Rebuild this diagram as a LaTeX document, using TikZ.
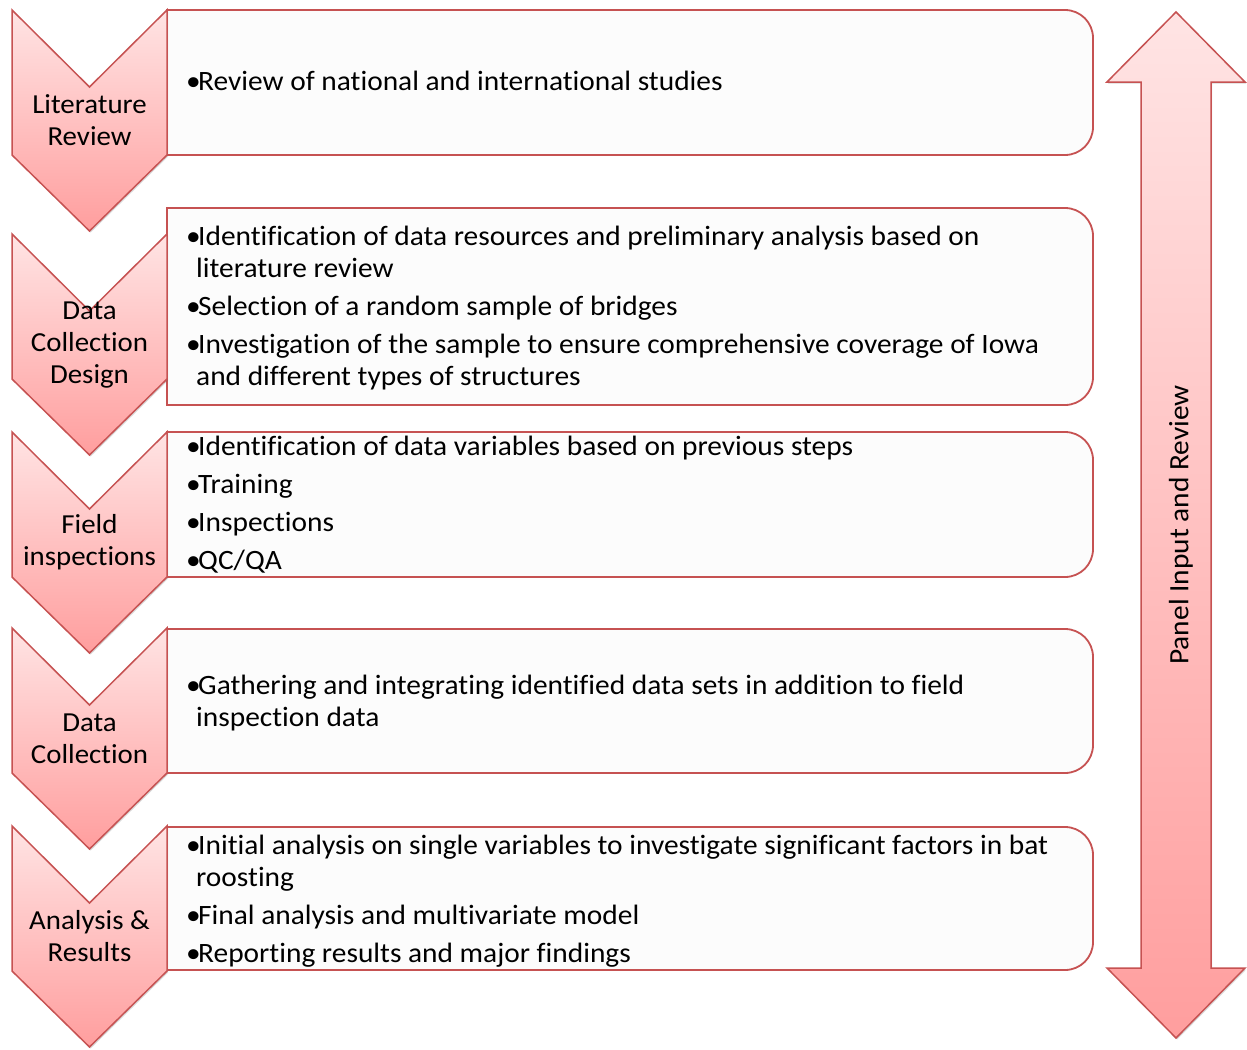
\documentclass[tikz,border=0pt]{standalone}
\usepackage{fontspec}
\setmainfont{Carlito}[FakeStretch=1.05, Ligatures=NoCommon]
\usetikzlibrary{shadows}
\definecolor{edge}{RGB}{198,82,82}
\definecolor{ctop}{RGB}{255,228,228}
\definecolor{cbot}{RGB}{255,158,158}
\definecolor{boxfill}{RGB}{252,252,252}
\tikzset{
  chev/.style={draw=edge, line width=1.5pt, top color=ctop, bottom color=cbot, line join=miter,
    drop shadow={shadow xshift=1.2pt, shadow yshift=-1.5pt, opacity=0.25, fill=black!60}},
  listbox/.style={draw=edge, line width=1.8pt, fill=boxfill},
  steplabel/.style={align=center, inner sep=0pt, font=\fontsize{27.5}{32}\selectfont},
  itemtext/.style={anchor=base west, inner sep=0pt},
  paneltext/.style={rotate=90, inner sep=0pt, font=\fontsize{28}{32}\selectfont},
}
\newcommand{\bul}{\makebox[12pt][l]{•}}
\newcommand{\itemlist}[1]{\parbox[t]{900pt}{\fontsize{28}{32}\selectfont\raggedright\parindent=0pt\parskip=6pt\everypar{\hangindent=10pt\hangafter=1}#1}}
\newcommand{\chevshape}[1]{(12,-#1) -- (89.5,-#1-77) -- (167,-#1) -- (167,-#1-145) -- (89.5,-#1-221) -- (12,-#1-145) -- cycle}
\newcommand{\boxshape}[2]{(167,-#1) -- (1065,-#1) arc[start angle=90,end angle=0,radius=28pt] -- (1093,-#2+28) arc[start angle=0,end angle=-90,radius=28pt] -- (167,-#2) -- cycle}
\begin{document}
\begin{tikzpicture}[x=1pt,y=1pt]
\useasboundingbox (0,0) rectangle (1247,-1049);
% boxes
\path[listbox] \boxshape{10}{155};
\path[listbox] \boxshape{208}{405};
\path[listbox] \boxshape{432}{577};
\path[listbox] \boxshape{629}{773};
\path[listbox] \boxshape{827}{970};
% chevrons
\path[chev] \chevshape{10};
\path[chev] \chevshape{234};
\path[chev] \chevshape{432};
\path[chev] \chevshape{628};
\path[chev] \chevshape{826};
% double arrow
\path[chev] (1176,-12) -- (1245,-82) -- (1211,-82) -- (1211,-968) -- (1245,-968) -- (1176,-1038)
  -- (1107,-968) -- (1141,-968) -- (1141,-82) -- (1107,-82) -- cycle;
% step labels
\node[steplabel] (s1) at (89.5,-120) {Literature\\Review};
\node[steplabel] (s2) at (89.5,-345) {Data\\Collection\\Design};
\node[steplabel] (s3) at (89.5,-542) {Field\\inspections};
\node[steplabel] (s4) at (89.5,-739) {Data\\Collection};
\node[steplabel] (s5) at (89.5,-936) {Analysis \&\\Results};
% item lists
\node[itemtext] (t1) at (186,-90) {\itemlist{\bul Review of national and international studies\par}};
\node[itemtext] (t2) at (186,-245) {\itemlist{\bul Identification of data resources and preliminary analysis based on\newline literature review\par
\bul Selection of a random sample of bridges\par
\bul Investigation of the sample to ensure comprehensive coverage of Iowa\newline and different types of structures\par}};
\node[itemtext] (t3) at (186,-455) {\itemlist{\bul Identification of data variables based on previous steps\par
\bul Training\par
\bul Inspections\par
\bul QC/QA\par}};
\node[itemtext] (t4) at (186,-694) {\itemlist{\bul Gathering and integrating identified data sets in addition to field\newline inspection data\par}};
\node[itemtext] (t5) at (186,-854) {\itemlist{\bul Initial analysis on single variables to investigate significant factors in bat\newline roosting\par
\bul Final analysis and multivariate model\par
\bul Reporting results and major findings\par}};
% panel label
\node[paneltext] (p) at (1181,-525) {Panel Input and Review};
\end{tikzpicture}
\end{document}
